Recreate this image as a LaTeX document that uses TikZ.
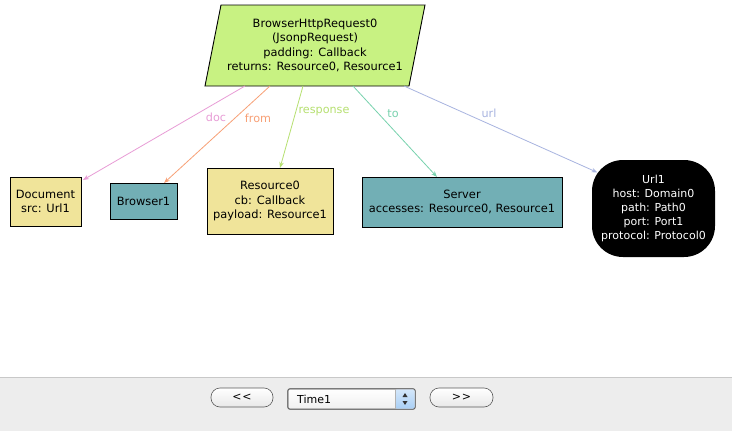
\documentclass[tikz,border=0pt]{standalone}
\usepackage{fontspec}
\setmainfont{DejaVu Sans}
\usetikzlibrary{arrows.meta}
\pgfdeclarelayer{background}
\pgfsetlayers{background,main}
\definecolor{reqfill}{HTML}{C8F282}
\definecolor{khaki}{HTML}{F0E49A}
\definecolor{tealfill}{HTML}{72AFB5}
\definecolor{cdoc}{HTML}{E89CD6}
\definecolor{cfrom}{HTML}{F8A076}
\definecolor{cresp}{HTML}{B6E070}
\definecolor{cto}{HTML}{78D2AE}
\definecolor{curl}{HTML}{A8B4E0}
\definecolor{panel}{HTML}{EDEDED}
\definecolor{panelline}{HTML}{C8C8C8}
\definecolor{combob}{HTML}{A9CFF5}
\tikzset{
  txt/.style={font=\fontsize{11.4}{14.2}\selectfont, align=center, inner sep=0pt, outer sep=0pt},
  box/.style={txt, draw=black, line width=0.9pt, rectangle},
  edge/.style={line width=0.8pt, -{Stealth[length=6pt,width=4.5pt]}},
  lab/.style={font=\fontsize{11.2}{13}\selectfont, inner sep=0pt},
  btn/.style={draw=gray!70!black, line width=0.6pt, rounded corners=9pt, top color=white, bottom color=gray!18, font=\fontsize{11}{12}\selectfont, inner sep=0pt}
}
\begin{document}
\begin{tikzpicture}[x=1pt,y=-1pt]
\useasboundingbox (0,0) rectangle (732,431);
% top request node
\node[txt, minimum width=204pt, minimum height=81pt] (req) at (315,45.5)
  {BrowserHttpRequest0\\(JsonpRequest)\\padding: Callback\\returns: Resource0, Resource1};
\begin{pgfonlayer}{background}
\fill[white] (0,0) rectangle (732,431);
\path[fill=reqfill, draw=black, line width=0.9pt]
  ([xshift=8pt]req.north west) -- ([xshift=8pt]req.north east) -- ([xshift=-8pt]req.south east) -- ([xshift=-8pt]req.south west) -- cycle;
\end{pgfonlayer}
% targets
\node[box, fill=khaki, minimum width=71pt, minimum height=49pt] (doc) at (45.5,201.5) {Document\\src: Url1};
\node[box, fill=tealfill, minimum width=67pt, minimum height=36pt] (br1) at (143.5,201) {Browser1};
\node[box, fill=khaki, minimum width=126pt, minimum height=66pt] (res0) at (270,201) {Resource0\\cb: Callback\\payload: Resource1};
\node[box, fill=tealfill, minimum width=200pt, minimum height=50pt] (srv) at (462,202) {Server\\accesses: Resource0, Resource1};
\node[txt, fill=black, text=white, rounded corners=31pt, minimum width=123pt, minimum height=97pt, font=\fontsize{11}{14.2}\selectfont] (url1) at (653.5,208.5)
  {Url1\\host: Domain0\\path: Path0\\port: Port1\\protocol: Protocol0};
% connectors
\draw[edge, cdoc] ([xshift=-70pt]req.south) -- ([xshift=2pt,yshift=-3pt]doc.north east);
\draw[edge, cfrom] ([xshift=-45pt]req.south) -- ([xshift=20.5pt]br1.north);
\draw[edge, cresp] ([xshift=-12pt]req.south) -- ([xshift=10pt]res0.north);
\draw[edge, cto] ([xshift=38pt]req.south) -- ([xshift=-25pt]srv.north);
\draw[edge, curl] ([xshift=89pt]req.south) -- ([xshift=-56pt,yshift=36pt]url1.center);
% labels
\node[lab, text=cdoc] (ldoc) at (216,117) {doc};
\node[lab, text=cfrom] (lfrom) at (258,118) {from};
\node[lab, text=cresp] (lresp) at (324,112) {response};
\node[lab, text=cto] (lto) at (393,114) {to};
\node[lab, text=curl] (lurl) at (489,113) {url};
% bottom panel
\fill[panel] (0,377) rectangle (732,431);
\draw[panelline, line width=1pt] (0,377.5) -- (732,377.5);
\node[btn, minimum width=62pt, minimum height=19pt] (prev) at (242,397.5) {<\kern1pt<};
\node[btn, minimum width=63pt, minimum height=19pt] (next) at (461.5,397.5) {>\kern1pt>};
\node[draw=gray!70!black, line width=0.6pt, rounded corners=2pt, top color=white, bottom color=gray!12, minimum width=127pt, minimum height=20pt, inner sep=0pt] (combo) at (351.5,399) {};
\path[top color=combob!50!white, bottom color=combob, rounded corners=2pt] (395,389.3) -- (414.7,389.3) -- (414.7,408.7) -- (395,408.7) -- cycle;
\draw[gray!70!black, line width=0.6pt, rounded corners=2pt] (combo.north west) rectangle (combo.south east);
\draw[gray!60, line width=0.5pt] (395,389.3) -- (395,408.7);
\fill[black!80] (402.5,397) -- (407.5,397) -- (405,393) -- cycle;
\fill[black!80] (402.5,401) -- (407.5,401) -- (405,405) -- cycle;
\node[lab, anchor=west, font=\fontsize{11}{12}\selectfont] (tlabel) at (297,399.5) {Time1};
\end{tikzpicture}
\end{document}
